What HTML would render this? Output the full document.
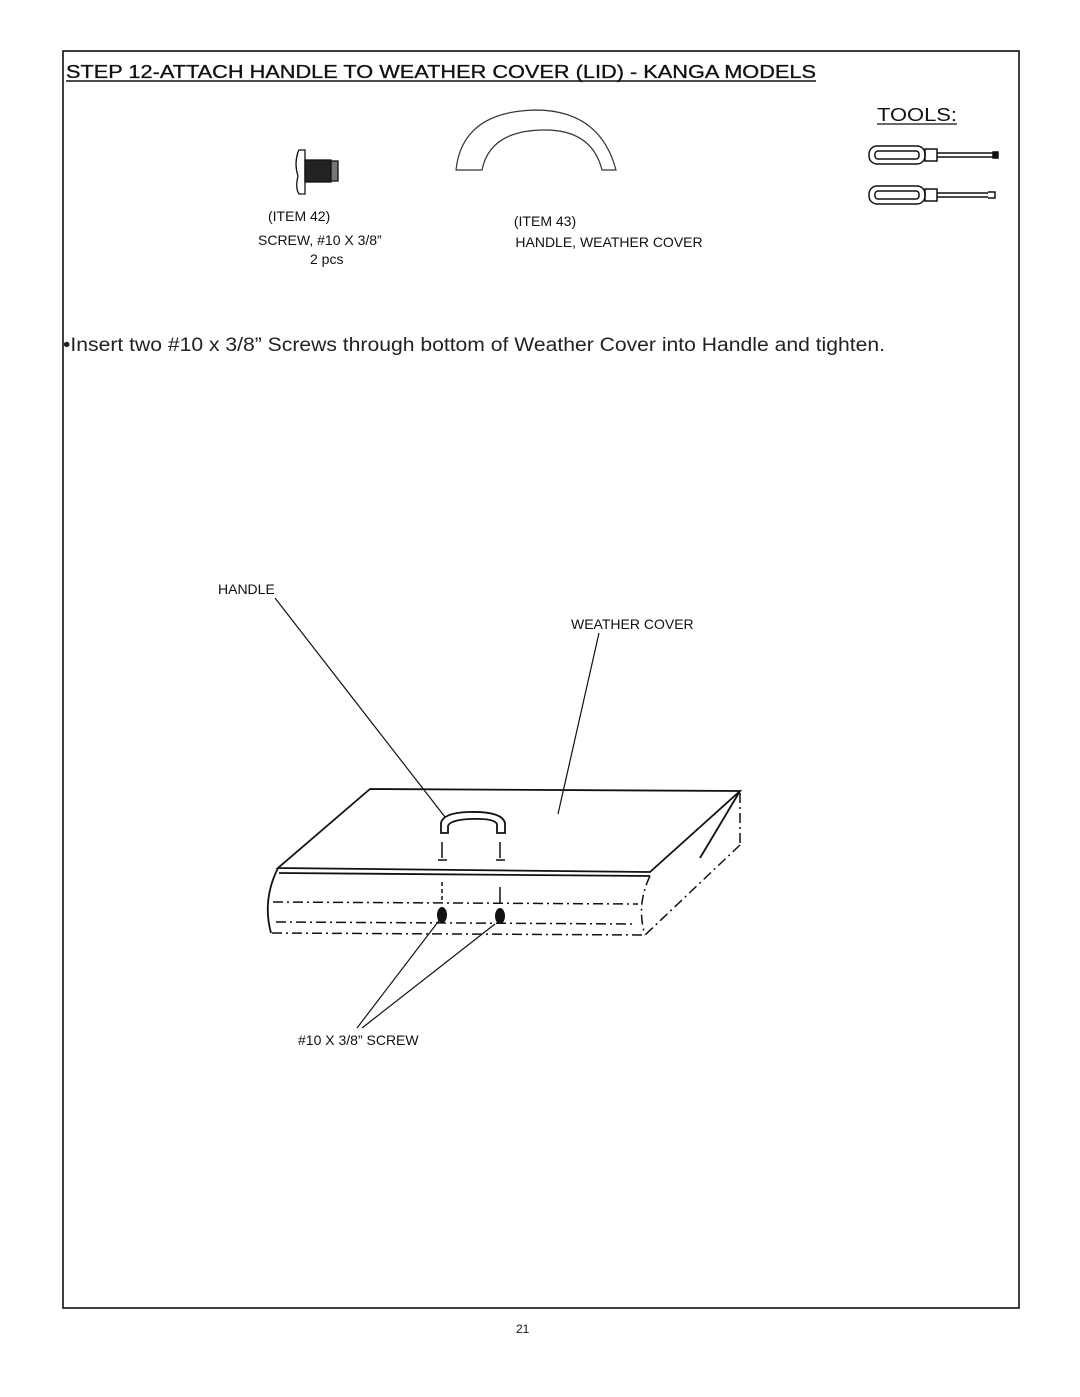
<!DOCTYPE html>
<html><head><meta charset="utf-8"><style>
html,body{margin:0;padding:0;background:#fff;}
svg{display:block;font-family:"Liberation Sans",Arial,sans-serif;}
</style></head><body>
<svg width="1080" height="1397" viewBox="0 0 1080 1397" xmlns="http://www.w3.org/2000/svg">
<rect x="0" y="0" width="1080" height="1397" fill="#fff"/>
<rect x="63" y="51" width="956" height="1257" fill="none" stroke="#111" stroke-width="1.6"/>
<text x="66" y="78" font-size="18.5" textLength="750" lengthAdjust="spacingAndGlyphs" fill="#111" stroke="#111" stroke-width="0.3">STEP 12-ATTACH HANDLE TO  WEATHER COVER (LID) - KANGA MODELS</text>
<line x1="66" y1="81" x2="816" y2="81" stroke="#111" stroke-width="1.5"/>
<text x="877" y="121" font-size="18" textLength="80" lengthAdjust="spacingAndGlyphs" fill="#111">TOOLS:</text>
<line x1="877" y1="124" x2="957" y2="124" stroke="#111" stroke-width="1.2"/>
<g stroke="#111" stroke-width="1.5" fill="none">
<rect x="869" y="146" width="56" height="18" rx="8"/><rect x="875" y="151" width="44" height="8" rx="3"/>
<rect x="925" y="149" width="12" height="12"/>
<line x1="937" y1="153" x2="994" y2="153"/><line x1="937" y1="157" x2="994" y2="157"/>
<rect x="993" y="152" width="5" height="6" fill="#111"/>
<rect x="869" y="186" width="56" height="18" rx="8"/><rect x="875" y="191" width="44" height="8" rx="3"/>
<rect x="925" y="189" width="12" height="12"/>
<line x1="937" y1="193" x2="988" y2="193"/><line x1="937" y1="197" x2="988" y2="197"/>
<path d="M988 192 L995 192 L995 198 L988 198"/>
</g>
<g stroke="#111" fill="none" stroke-width="1.3">
<path d="M298 152 Q294 164 298 176 Q295 188 299 194 L305 194 L305 150 L299 150 Z"/>
<rect x="305" y="160" width="26" height="22" fill="#222"/>
<rect x="331" y="161" width="7" height="20" fill="#777"/>
</g>
<text x="268" y="221" font-size="14" fill="#111">(ITEM 42)</text>
<text x="258" y="245" font-size="14" fill="#111">SCREW, #10 X 3/8”</text>
<text x="310" y="264" font-size="14" fill="#111">2 pcs</text>
<path d="M456 170 Q462 112 535 110 Q600 110 616 170 L602 170 Q592 130 545 130 Q490 130 482 170 Z" fill="none" stroke="#333" stroke-width="1.2"/>
<text x="545" y="226" font-size="14" fill="#111" text-anchor="middle">(ITEM 43)</text>
<text x="609" y="247" font-size="14" fill="#111" text-anchor="middle">HANDLE, WEATHER COVER</text>
<text x="63" y="351" font-size="19" textLength="822" lengthAdjust="spacingAndGlyphs" fill="#222">•Insert two #10 x 3/8” Screws through bottom of Weather Cover into Handle and tighten.</text>
<text x="218" y="594" font-size="14" fill="#111">HANDLE</text>
<text x="571" y="629" font-size="14" fill="#111">WEATHER COVER</text>
<text x="298" y="1045" font-size="14" fill="#111">#10 X 3/8” SCREW</text>
<text x="516" y="1333" font-size="12" fill="#111">21</text>
<g stroke="#111" stroke-width="1.2" fill="none">
<line x1="275" y1="598" x2="445" y2="817"/>
<line x1="599" y1="633" x2="558" y2="814"/>
<line x1="441" y1="918" x2="357" y2="1028"/>
<line x1="495" y1="924" x2="362" y2="1028"/>
</g>
<g stroke="#111" stroke-width="1.8" fill="none">
<path d="M370 789 L740 791 L650 872 L278 868 Z"/>
<line x1="279" y1="873" x2="650" y2="876"/>
<path d="M278 868 Q262 900 271 933"/>
<path d="M740 791 L700 858"/>
</g>
<g stroke="#111" stroke-width="1.5" fill="none" stroke-dasharray="10,4,2,4">
<line x1="273" y1="902" x2="638" y2="904"/>
<line x1="276" y1="922" x2="636" y2="924"/>
<line x1="272" y1="933" x2="645" y2="935"/>
<line x1="740" y1="793" x2="740" y2="845"/>
<line x1="740" y1="845" x2="645" y2="935"/>
<path d="M650 876 Q636 905 645 935"/>
</g>
<path d="M441 833 L441 823 Q443 813 468 812 Q502 811 505 823 L505 833 L497 833 L497 824 Q494 818 470 819 Q450 820 448 826 L448 833 Z" fill="none" stroke="#111" stroke-width="1.8"/>
<g stroke="#111" stroke-width="1.5">
<line x1="442" y1="842" x2="442" y2="858"/><line x1="500" y1="842" x2="500" y2="858"/>
<line x1="438" y1="860" x2="447" y2="860"/><line x1="496" y1="860" x2="505" y2="860"/>
<line x1="442" y1="882" x2="442" y2="902" stroke-dasharray="4,3"/><line x1="500" y1="887" x2="500" y2="904"/>
</g>
<ellipse cx="442" cy="915" rx="5" ry="8" fill="#111"/>
<ellipse cx="500" cy="916" rx="5" ry="8" fill="#111"/>
</svg>
</body></html>
